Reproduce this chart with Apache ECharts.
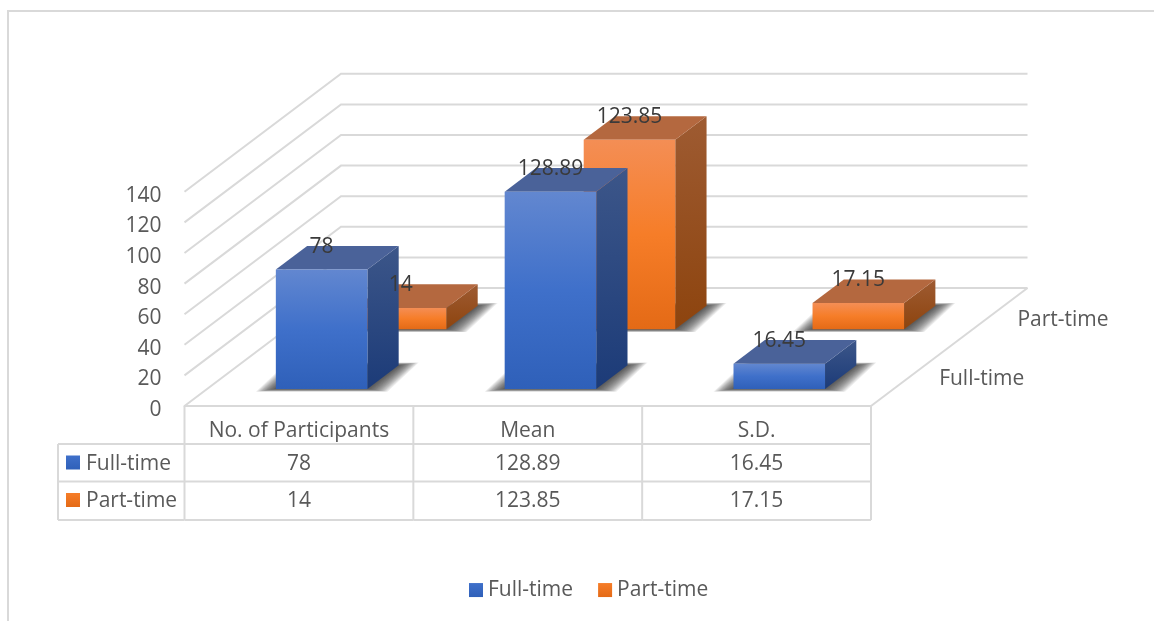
<!DOCTYPE html>
<title>full-time vs part-time</title>
<style>
body {margin: 0; background: #fff;}
#echart {height: 621px; width: 1154px;}
</style>
<div id='echart'></div>
<script src='https://cdn.jsdelivr.net/npm/echarts@6/dist/echarts.min.js'></script>
<script>
let categories = ['No. of Participants', 'Mean', 'S.D.']
let seriesNames = ['Full-time', 'Part-time']
let fullTime = [78, 128.89, 16.45]
let partTime = [14, 123.85, 17.15]
let yTicks = [0, 20, 40, 60, 80, 100, 120, 140]

// floor depth on screen, the front plane is the cartesian grid
let depthX = 156.5
let depthY = -118
let slotDepth = [0.145, 0.65]
let font = '"Open Sans", sans-serif'
let fontPx = 21
let line = '#d9d9d9'

function grad(stops, x2, y2) {
	return new echarts.graphic.LinearGradient(0, 0, x2, y2, stops.map(function (c, i) {
		return {offset: i / (stops.length - 1), color: c}
	}))
}

let palette = [
	{front: ['#6287d0', '#3f70ca', '#2f60b9'], top: '#4a6299', side: ['#3c5689', '#1c3b78']},
	{front: ['#f48e55', '#f67d28', '#e46a16'], top: '#b4683f', side: ['#9e5b32', '#8d440e']},
]

function poly(points, style) {
	return {type: 'polygon', shape: {points: points}, style: style}
}

function wallLine(params, api) {
	let width = api.size([1, 0])[0]
	let y = api.coord([0, api.value(1)])[1]
	let x0 = api.coord([0, 0])[0] - width / 2
	let x1 = x0 + width * categories.length
	return {
		type: 'polyline',
		shape: {points: [[x0, y], [x0 + depthX, y + depthY], [x1 + depthX, y + depthY]]},
		style: {stroke: line, lineWidth: 2, fill: null},
	}
}

function floorEdge(params, api) {
	let width = api.size([1, 0])[0]
	let y = api.coord([0, 0])[1]
	let x1 = api.coord([0, 0])[0] - width / 2 + width * categories.length
	return {
		type: 'line',
		shape: {x1: x1, y1: y, x2: x1 + depthX, y2: y + depthY},
		style: {stroke: line, lineWidth: 2},
	}
}

function bar3d(slot) {
	return function (params, api) {
		let width = api.size([1, 0])[0] * 0.4
		let base = api.coord([api.value(0), 0])
		let top = api.coord([api.value(0), api.value(1)])
		let z0 = slotDepth[slot]
		let z1 = z0 + 0.2
		let left = base[0] - width / 2
		let right = base[0] + width / 2
		let p = function (x, y, z) {return [x + z * depthX, y + z * depthY]}
		let c = palette[slot]
		let children = []
		// soft floor shadow, wide sideways and thin front to back
		for (let e = 20; e > 0; e -= 1.25) {
			let v = e * 0.14
			children.push(poly([p(left - e, base[1] + v, z0), p(right + e, base[1] + v, z0), p(right + e, base[1] - v, z1), p(left - e, base[1] - v, z1)], {
				fill: 'rgba(30,30,30,0.075)',
			}))
		}
		children.push(
			poly([p(right, base[1], z0), p(right, top[1], z0), p(right, top[1], z1), p(right, base[1], z1)], {fill: grad(c.side, 0, 1)}),
			poly([p(left, top[1], z0), p(right, top[1], z0), p(right, top[1], z1), p(left, top[1], z1)], {fill: c.top}),
			poly([p(left, base[1], z0), p(right, base[1], z0), p(right, top[1], z0), p(left, top[1], z0)], {fill: grad(c.front, 0, 1)})
		)
		return {type: 'group', children: children}
	}
}

function barLabel(slot) {
	return function (params, api) {
		let top = api.coord([api.value(0), api.value(1)])
		let z = slotDepth[slot]
		return {
			type: 'text',
			style: {
				text: String(api.value(1)), x: top[0] + z * depthX, y: top[1] + z * depthY - 23,
				align: 'center', verticalAlign: 'middle', fill: '#3a3a3a', font: fontPx + 'px ' + font,
			},
		}
	}
}

function depthLabel(params, api) {
	let width = api.size([1, 0])[0]
	let base = api.coord([0, 0])
	let x1 = base[0] - width / 2 + width * categories.length
	let z = params.dataIndex === 0 ? 0.25 : 0.75
	return {
		type: 'text',
		style: {
			text: seriesNames[params.dataIndex], x: x1 + z * depthX + 29, y: base[1] + z * depthY + 2.5,
			align: 'left', verticalAlign: 'middle', fill: '#595959', font: fontPx + 'px ' + font,
		},
	}
}

function tableCells(params, api) {
	let width = api.size([1, 0])[0]
	let base = api.coord([api.value(0), 0])
	let rows = [base[1] + 38, base[1] + 75.5, base[1] + 114]
	let x0 = base[0] - width / 2
	let children = []
	let hline = function (a, b, y) {
		children.push({type: 'line', shape: {x1: a, y1: y, x2: b, y2: y}, style: {stroke: line, lineWidth: 2}})
	}
	let vline = function (x, a, b) {
		children.push({type: 'line', shape: {x1: x, y1: a, x2: x, y2: b}, style: {stroke: line, lineWidth: 2}})
	}
	rows.forEach(function (y) {hline(x0, x0 + width, y)})
	vline(x0 + width, base[1], rows[2])
	;[api.value(2), api.value(3)].forEach(function (v, i) {
		children.push({type: 'text', style: {
			text: String(v), x: base[0], y: (i === 0 ? rows[0] : rows[1]) + 20,
			align: 'center', verticalAlign: 'middle', fill: '#595959', font: fontPx + 'px ' + font,
		}})
	})
	if (params.dataIndex === 0) {
		let left = x0 - 126.5
		vline(x0, base[1], rows[2])
		vline(left, rows[0], rows[2])
		rows.forEach(function (y) {hline(left, x0, y)})
		seriesNames.forEach(function (name, i) {
			let mid = (i === 0 ? rows[0] : rows[1]) + 18.5
			children.push({type: 'rect', shape: {x: left + 8, y: mid - 7, width: 14, height: 14}, style: {fill: grad(palette[i].front.slice(1), 0, 1)}})
			children.push({type: 'text', style: {
				text: name, x: left + 28, y: mid + 1.5,
				align: 'left', verticalAlign: 'middle', fill: '#595959', font: fontPx + 'px ' + font,
			}})
		})
	}
	return {type: 'group', children: children}
}

function yLabel(params, api) {
	let pos = api.coord([0, api.value(1)])
	let width = api.size([1, 0])[0]
	return {
		type: 'text',
		style: {
			text: String(api.value(1)), x: pos[0] - width / 2 - 23, y: pos[1] + 4,
			align: 'right', verticalAlign: 'middle', fill: '#595959', font: fontPx + 'px ' + font,
		},
	}
}

function rowsOf(values) {
	return values.map(function (v, i) {return [i, v]})
}

let echart = echarts.init(document.querySelector('#echart'))
let option = {
	animation: false,
	textStyle: {fontFamily: font},
	grid: {left: 184.5, right: 283, top: 191.8, bottom: 215, outerBoundsMode: 'none'},
	xAxis: {
		type: 'category', data: categories,
		axisLine: {lineStyle: {color: line, width: 2}}, axisTick: {show: false},
		axisLabel: {color: '#595959', fontSize: fontPx, fontFamily: font, margin: 8, interval: 0},
	},
	yAxis: {
		type: 'value', min: 0, max: 140, interval: 20,
		splitLine: {show: false}, axisLine: {show: false}, axisTick: {show: false},
		axisLabel: {show: false},
	},
	legend: {
		left: 464, top: 568, itemWidth: 14, itemHeight: 14, itemGap: 25, selectedMode: false,
		textStyle: {color: '#595959', fontSize: fontPx, fontFamily: font},
		data: seriesNames.map(function (name, i) {
			return {name: name, icon: 'rect', itemStyle: {color: grad(palette[i].front.slice(1), 0, 1)}}
		}),
	},
	series: [
		{type: 'custom', name: 'walls', silent: true, z: 1, data: yTicks.map(function (t) {return [0, t]}), encode: {x: 0, y: 1}, renderItem: wallLine},
		{type: 'custom', name: 'edge', silent: true, z: 1, data: [[0, 0]], encode: {x: 0, y: 1}, renderItem: floorEdge},
		{type: 'custom', name: 'y labels', silent: true, z: 1, data: yTicks.map(function (t) {return [0, t]}), encode: {x: 0, y: 1}, renderItem: yLabel},
		{type: 'custom', name: seriesNames[1], z: 2, data: rowsOf(partTime), encode: {x: 0, y: 1}, renderItem: bar3d(1)},
		{type: 'custom', name: seriesNames[0], z: 3, data: rowsOf(fullTime), encode: {x: 0, y: 1}, renderItem: bar3d(0)},
		{type: 'custom', name: 'part labels', silent: true, z: 4, data: rowsOf(partTime), encode: {x: 0, y: 1}, renderItem: barLabel(1)},
		{type: 'custom', name: 'full labels', silent: true, z: 4, data: rowsOf(fullTime), encode: {x: 0, y: 1}, renderItem: barLabel(0)},
		{type: 'custom', name: 'depth labels', silent: true, z: 4, data: [[0, 0], [0, 0]], encode: {x: 0, y: 1}, renderItem: depthLabel},
		{type: 'custom', name: 'table', silent: true, z: 4, data: categories.map(function (c, i) {return [i, 0, fullTime[i], partTime[i]]}), encode: {x: 0, y: 1}, renderItem: tableCells},
	],
	graphic: [{
		type: 'polyline', silent: true,
		shape: {points: [[8, 621], [8, 11], [1154, 11]]},
		style: {stroke: line, lineWidth: 2, fill: null},
	}],
}

echart.setOption(option)
addEventListener('resize', function (event) {echart.resize()})
</script>
